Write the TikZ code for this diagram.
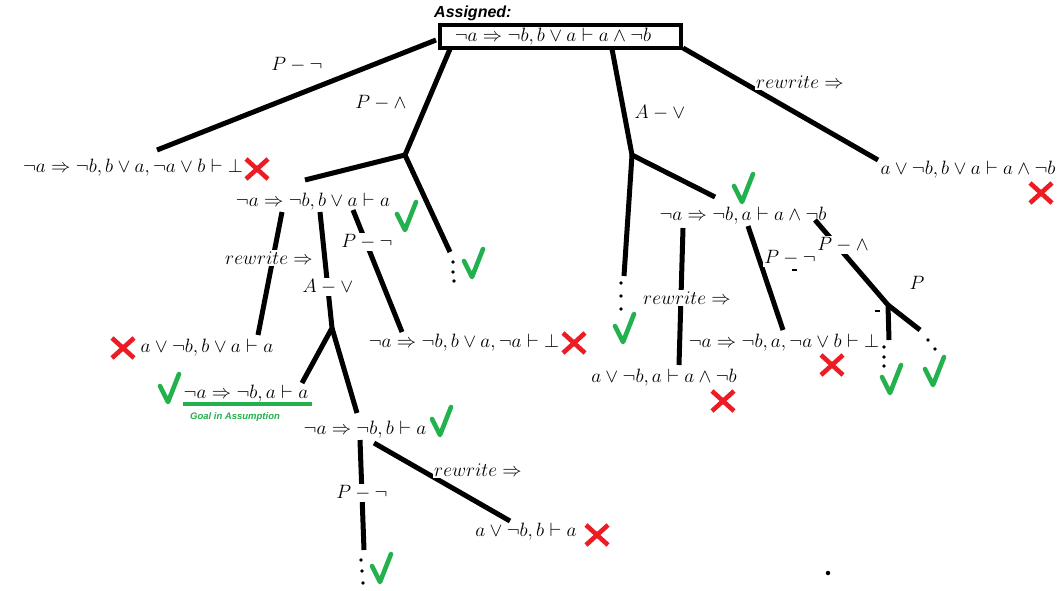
\RequirePackage{fix-cm}
\documentclass[tikz,border=0pt]{standalone}
\usepackage{fontspec}
\usetikzlibrary{calc}
\newfontfamily\lsans{Liberation Sans}
\definecolor{chkgreen}{HTML}{22B14C}
\definecolor{xred}{HTML}{ED1C24}
\tikzset{
  seq/.style={font=\fontsize{19.3}{22}\selectfont, inner sep=0pt},
  lbl/.style={font=\fontsize{19.3}{22}\selectfont, inner sep=1.5pt, fill=white},
  edge/.style={line width=5pt, black},
  chk/.pic={\draw[chkgreen, line width=4.6pt, line cap=round, line join=round] (-8,-16) -- (0,0) -- (11,-28);},
  xx/.pic={\draw[xred, line width=4.6pt] (-11,-10) -- (11,10) (-11,10) -- (11,-10);},
  dotmark/.style={circle, fill=black, inner sep=0pt, minimum size=3.8pt},
}
\begin{document}
\begin{tikzpicture}[x=1pt, y=-1pt]
\useasboundingbox[fill=white] (0,0) rectangle (1060,590);

% title and root
\node[font=\lsans\bfseries\itshape\fontsize{16}{18}\selectfont, anchor=base west, inner sep=0pt] (assigned) at (434,17.5) {Assigned:};
\node[draw, line width=4.5pt, minimum width=241pt, minimum height=23pt, inner sep=0pt] (rootbox) at (560.5,36.5) {};
\node[seq] (root) at (553,37) {$\neg a \Rightarrow \neg b, b \vee a \vdash a \wedge \neg b$};

% sequents
\node[seq] (n1) at (133,168) {$\neg a \Rightarrow \neg b, b \vee a, \neg a \vee b \vdash \bot$};
\node[seq] (n2) at (313,202) {$\neg a \Rightarrow \neg b, b \vee a \vdash a$};
\node[seq] (n3) at (743,216) {$\neg a \Rightarrow \neg b, a \vdash a \wedge \neg b$};
\node[seq] (n4) at (968,170) {$a \vee \neg b, b \vee a \vdash a \wedge \neg b$};
\node[seq] (n5) at (207,348) {$a \vee \neg b, b \vee a \vdash a$};
\node[seq] (n6) at (246,394) {$\neg a \Rightarrow \neg b, a \vdash a$};
\node[seq] (n7) at (464,343) {$\neg a \Rightarrow \neg b, b \vee a, \neg a \vdash \bot$};
\node[seq] (n8) at (365,430) {$\neg a \Rightarrow \neg b, b \vdash a$};
\node[seq] (n9) at (526,532) {$a \vee \neg b, b \vdash a$};
\node[seq] (n10) at (664,378) {$a \vee \neg b, a \vdash a \wedge \neg b$};
\node[seq] (n11) at (784,343) {$\neg a \Rightarrow \neg b, a, \neg a \vee b \vdash \bot$};

% attachment points and junctions
\coordinate (rA) at (436,40);
\coordinate (rB) at (450,49);
\coordinate (rC) at (612,49);
\coordinate (rD) at (683,48);
\coordinate (n1t) at (157,150);
\coordinate (j1) at (405,155);
\coordinate (n2r) at (305,180);
\coordinate (d1) at (450,252);
\coordinate (j2) at (632,155);
\coordinate (d2) at (624,276);
\coordinate (n3t) at (715,197);
\coordinate (n4t) at (878,160);
\coordinate (n2a) at (282,212);
\coordinate (n5t) at (258,335);
\coordinate (n2b) at (320,212);
\coordinate (j3) at (332,328);
\coordinate (n6t) at (302,383);
\coordinate (n8t) at (357,413);
\coordinate (n2c) at (353,210);
\coordinate (n7t) at (402,332);
\coordinate (n8a) at (360,440);
\coordinate (d3) at (364,550);
\coordinate (n8b) at (374,443);
\coordinate (n9t) at (510,521);
\coordinate (n3a) at (683,228);
\coordinate (n10t) at (679,365);
\coordinate (n3b) at (748,226);
\coordinate (n11t) at (783,330);
\coordinate (n3c) at (815,220);
\coordinate (j4) at (888,305);
\coordinate (d4) at (889,340);
\coordinate (d5) at (920,330);

% connectors
\draw[edge] (rA) -- (n1t);
\draw[edge] (rB) -- (j1) -- (n2r);
\draw[edge] (j1) -- (d1);
\draw[edge] (rC) -- (j2) -- (n3t);
\draw[edge] (j2) -- (d2);
\draw[edge] (rD) -- (n4t);
\draw[edge] (n2a) -- (n5t);
\draw[edge] (n2b) -- (j3) -- (n6t);
\draw[edge] (j3) -- (n8t);
\draw[edge] (n2c) -- (n7t);
\draw[edge] (n8a) -- (d3);
\draw[edge] (n8b) -- (n9t);
\draw[edge] (n3a) -- (n10t);
\draw[edge] (n3b) -- (n11t);
\draw[edge] (n3c) -- (j4) -- (d4);
\draw[edge] (j4) -- (d5);

% rule labels
\node[lbl] (l1) at (297,65) {$P - \neg$};
\node[lbl] (l2) at (381,103) {$P - \wedge$};
\node[lbl] (l3) at (660,113) {$A - \vee$};
\node[lbl] (l4) at (800,82) {$rewrite \Rightarrow$};
\node[lbl] (l5) at (269,258) {$rewrite \Rightarrow$};
\node[lbl] (l6) at (328,287) {$A - \vee$};
\node[lbl] (l7) at (367,242) {$P - \neg$};
\node[lbl] (l8) at (362,493) {$P - \neg$};
\node[lbl] (l9) at (478,470) {$rewrite \Rightarrow$};
\node[lbl] (l10) at (687,298) {$rewrite \Rightarrow$};
\node[lbl] (l11) at (790,258) {$P - \neg$};
\node[lbl] (l12) at (843,245) {$P - \wedge$};
\node[lbl] (l13) at (917,283) {$P$};

% vertical dots
\foreach \p in {(453,262),(453,272),(454,281),(621,283),(621,296),(621,309),(361,560),(362,571),(363,583),(884,347),(884,357),(884,366),(928,340),(935,349)}
  \node[dotmark] at \p {};
\node[dotmark, minimum size=4.5pt] (stray) at (828,573) {};
\draw[line width=1.2pt] (792,270) -- (797,270) (875,311) -- (880,311);

% goal underline
\draw[chkgreen, line width=4pt] (183,403.5) coordinate (ulA) -- (312,403.5) coordinate (ulB);
\node[font=\lsans\bfseries\itshape\fontsize{9.5}{11}\selectfont, text=chkgreen, inner sep=0pt] (goal) at (235,417) {Goal in Assumption};

% checks
\foreach \p in {(405,230),(472,277),(742,202),(623,342),(168,402),(440,435),(380,582),(890,393),(933,385)}
  \pic at \p {chk};
% crosses
\foreach \p in {(257,169),(1041,193),(123,348),(574,343),(597,535),(723,401),(832,365)}
  \pic at \p {xx};
\end{tikzpicture}
\end{document}
